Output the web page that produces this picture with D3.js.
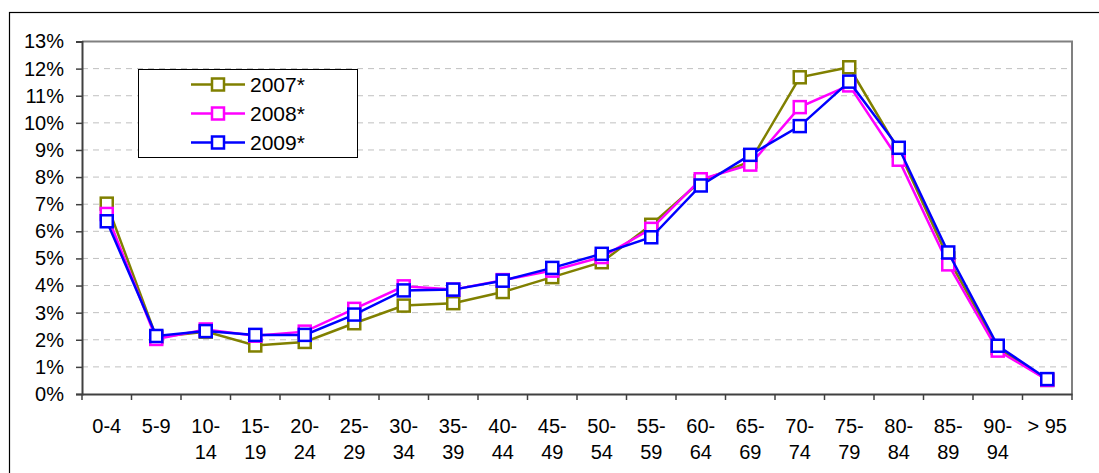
<!DOCTYPE html>
<html><head><meta charset="utf-8">
<script src="https://cdn.jsdelivr.net/npm/d3@7"></script>
<style>body{margin:0;background:#fff;} svg{display:block;font-family:Arial,"Liberation Sans",sans-serif;}</style>
</head><body>
<svg id="c" width="1099" height="473"></svg>
<script>
const categories = ["0-4","5-9","10-|14","15-|19","20-|24","25-|29","30-|34","35-|39","40-|44","45-|49","50-|54","55-|59","60-|64","65-|69","70-|74","75-|79","80-|84","85-|89","90-|94","> 95"];
const values2007 = [7.02,2.10,2.30,1.79,1.92,2.61,3.26,3.35,3.76,4.31,4.86,6.24,7.85,8.58,11.68,12.05,8.98,5.00,1.70,0.52];
const values2008 = [6.64,2.03,2.38,2.15,2.30,3.14,3.97,3.85,4.20,4.55,5.05,6.09,7.92,8.46,10.58,11.38,8.64,4.78,1.60,0.52];
const values2009 = [6.37,2.14,2.32,2.18,2.18,2.93,3.82,3.85,4.18,4.65,5.17,5.78,7.69,8.82,9.88,11.52,9.08,5.22,1.78,0.55];
const seriesNames = ["2007*","2008*","2009*"];
const seriesColors = ["#808000","#FF00FF","#0000FF"];
const yTicks = [0,1,2,3,4,5,6,7,8,9,10,11,12,13];

const svg = d3.select("#c");
const L = 82, R = 1072, T = 41.5, B = 394;
// outer frame
svg.append("rect").attr("x",9.5).attr("y",12.5).attr("width",1200).attr("height",600)
  .attr("fill","none").attr("stroke","#000").attr("stroke-width",1.2);

const x = d3.scaleBand().domain(categories).range([L,R]).padding(0);
const y = d3.scaleLinear().domain([0,13]).range([B,T]);

// gridlines
svg.append("g").selectAll("line").data(yTicks.filter(d=>d>0&&d<13)).join("line")
  .attr("x1",L).attr("x2",R).attr("y1",d=>y(d)).attr("y2",d=>y(d))
  .attr("stroke","#c0c0c0").attr("stroke-width",1).attr("stroke-dasharray","6,5");

// plot border (top and right)
svg.append("path").attr("d",`M${L},${T}H${R}V${B}`).attr("fill","none")
  .attr("stroke","#808080").attr("stroke-width",2);

// y axis
const yAxis = d3.axisLeft(y).tickValues(yTicks).tickFormat(d=>d+"%").tickSize(6).tickPadding(12);
const gy = svg.append("g").attr("transform",`translate(${L},0)`).call(yAxis);
gy.select(".domain").attr("stroke","#404040").attr("stroke-width",2);
gy.selectAll(".tick line").attr("stroke","#404040").attr("stroke-width",1.5);
gy.selectAll(".tick text").attr("font-size",20).attr("fill","#000").attr("font-family","Arial,'Liberation Sans',sans-serif");

// x axis
const xAxis = d3.axisBottom(x).tickSize(0).tickFormat("");
const gx = svg.append("g").attr("transform",`translate(0,${B})`).call(xAxis);
gx.select(".domain").attr("stroke","#404040").attr("stroke-width",2);
gx.selectAll(".tick").remove();
// x ticks at band boundaries
svg.append("g").selectAll("line").data(categories.concat(["__end"])).join("line")
  .attr("x1",(d,i)=> i<categories.length ? x(d) : R).attr("x2",(d,i)=> i<categories.length ? x(d) : R)
  .attr("y1",B).attr("y2",B+6).attr("stroke","#404040").attr("stroke-width",1.5);
// x labels
const xl = svg.append("g").selectAll("text").data(categories).join("text")
  .attr("x",d=>x(d)+x.bandwidth()/2).attr("y",433)
  .attr("text-anchor","middle").attr("font-size",20).attr("fill","#000");
xl.each(function(d){
  const parts = d.split("|");
  const t = d3.select(this);
  parts.forEach((p,i)=>{
    t.append("tspan").attr("x",x(d)+x.bandwidth()/2).attr("dy",i===0?0:26).text(p);
  });
});

// series
const allSeries = [values2007, values2008, values2009];
const line = d3.line().x((d,i)=>x(categories[i])+x.bandwidth()/2).y(d=>y(d));
allSeries.forEach((vals,si)=>{
  const g = svg.append("g");
  g.append("path").datum(vals).attr("d",line).attr("fill","none")
    .attr("stroke",seriesColors[si]).attr("stroke-width",2.5);
  g.selectAll("rect").data(vals).join("rect")
    .attr("x",(d,i)=>x(categories[i])+x.bandwidth()/2-6)
    .attr("y",d=>y(d)-6).attr("width",12).attr("height",12)
    .attr("fill","#fff").attr("stroke",seriesColors[si]).attr("stroke-width",2.5);
});

// legend
const lg = svg.append("g");
lg.append("rect").attr("x",138.5).attr("y",69.5).attr("width",219).attr("height",88)
  .attr("fill","#fff").attr("stroke","#000").attr("stroke-width",1);
seriesNames.forEach((n,i)=>{
  const cy = 84.5 + i*29;
  lg.append("line").attr("x1",191).attr("x2",245).attr("y1",cy).attr("y2",cy)
    .attr("stroke",seriesColors[i]).attr("stroke-width",2.5);
  lg.append("rect").attr("x",212).attr("y",cy-6).attr("width",12).attr("height",12)
    .attr("fill","#fff").attr("stroke",seriesColors[i]).attr("stroke-width",2.5);
  lg.append("text").attr("x",250).attr("y",cy+7.5).attr("font-size",21).attr("fill","#000").text(n);
});
</script>
</body></html>
